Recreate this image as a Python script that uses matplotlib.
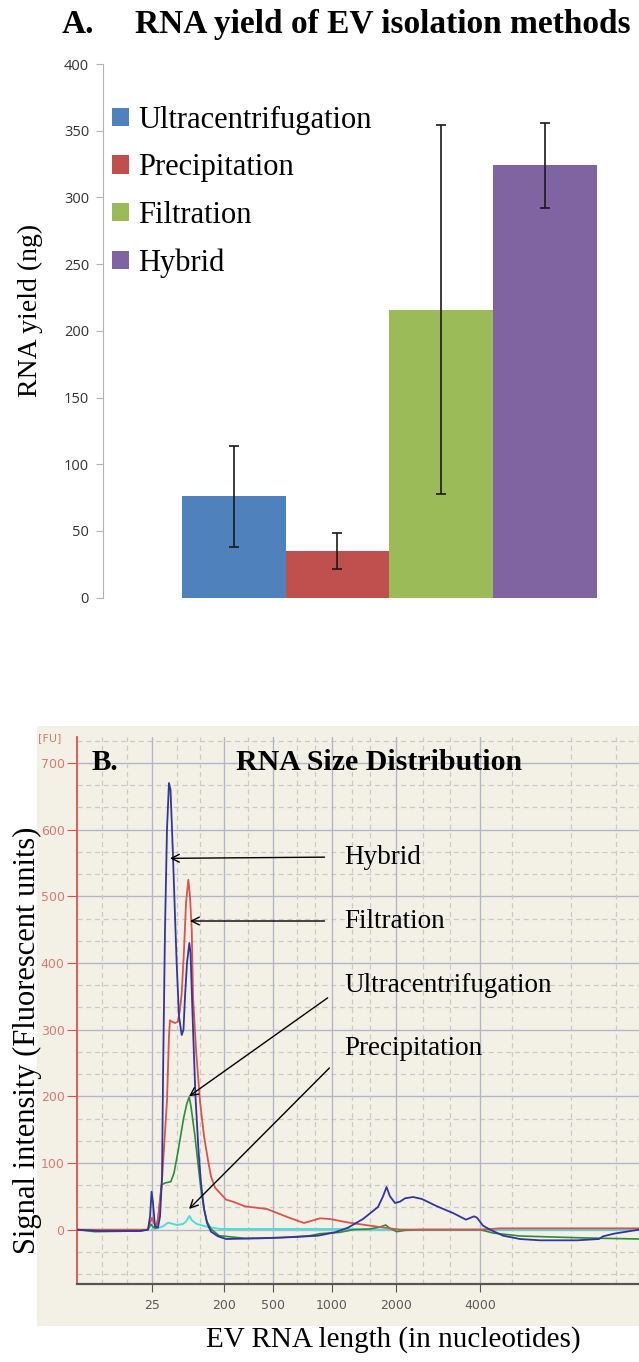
import matplotlib
matplotlib.use('Agg')
import matplotlib.pyplot as plt
from matplotlib.patches import Rectangle, Patch
import numpy as np

# ---- panel A: RNA yield per isolation method ----
methods = ['Ultracentrifugation', 'Precipitation', 'Filtration', 'Hybrid']
yield_ng = [76, 35, 216, 324]
yield_err = [38, 13.5, 138.5, 32]
bar_colors = ['#4f81bd', '#c0504d', '#9bbb59', '#8064a2']

# ---- panel B: electropherogram traces (migration time [s], FU) ----
ladder_nt = ['25', '200', '500', '1000', '2000', '4000']
ladder_time = [25.82, 32.36, 36.82, 42.18, 48.0, 55.64]

hybrid_t = [19.0, 21.09, 24.73, 25.45, 25.64, 25.78, 25.91, 26.09, 26.36, 26.55, 26.73,
            26.82, 27.0, 27.18, 27.36, 27.5, 27.64, 27.73, 27.91, 28.06, 28.27, 28.52,
            28.68, 28.82, 29.0, 29.21, 29.32, 29.55, 29.77, 30.05, 30.27, 30.55, 30.82,
            31.18, 31.82, 32.55, 35.64, 38.91, 40.91, 42.45, 43.64, 45.0, 46.36, 46.82,
            47.14, 47.45, 47.91, 48.36, 48.82, 49.55, 50.36, 51.73, 53.18, 54.36, 55.09,
            55.36, 55.91, 56.55, 57.73, 59.27, 61.09, 64.45, 66.45, 66.82, 67.82, 70.09]
hybrid_fu = [0, -2, -2, 0, 20, 57, 40, 5, 3, 20, 80,
             229, 450, 600, 670, 660, 600, 559, 470, 400, 320, 292,
             300, 350, 400, 430, 415, 300, 200, 117, 70, 31, 10,
             -3, -10, -14, -13, -11, -9, -4, 3, 16, 34, 50,
             64, 50, 40, 42, 47, 49, 46, 35, 25, 15, 20,
             18, 6, 0, -9, -14, -16, -16, -14, -10, -6, 0]

filtration_t = [19.0, 25.45, 25.64, 25.82, 26.0, 26.18, 26.36, 26.68, 26.95, 27.18, 27.36,
                27.45, 27.64, 27.91, 28.18, 28.36, 28.52, 28.73, 28.91, 29.12, 29.27,
                29.43, 29.55, 29.82, 30.18, 30.55, 30.88, 31.18, 31.55, 32.55, 33.18,
                34.27, 36.27, 38.27, 39.64, 41.09, 42.0, 43.55, 45.64, 47.18, 48.36,
                55.64, 57.45, 70.09]
filtration_fu = [0, 0, 10, 18, 10, 5, 16, 62, 133, 193, 290,
                 314, 312, 310, 312, 330, 355, 420, 490, 525, 500,
                 450, 349, 270, 193, 140, 107, 80, 63, 45, 42,
                 35, 31, 18, 10, 17, 16, 11, 6, 2.5, 0,
                 0, 2, 2]

ultra_t = [19.0, 20.64, 24.73, 25.45, 25.73, 25.91, 26.18, 26.36, 26.68, 27.0, 27.53,
           27.82, 28.18, 28.7, 29.0, 29.2, 29.36, 29.71, 30.05, 30.27, 30.55, 30.82,
           31.18, 31.91, 34.27, 37.45, 40.18, 41.09, 42.91, 44.09, 45.64, 46.55, 47.06,
           47.45, 48.06, 48.82, 50.18, 52.64, 55.64, 56.82, 59.27, 62.27, 65.36, 70.09]
ultra_fu = [0, -3, -2, 0, 8, 4, 2, 15, 67, 70, 72,
            85, 117, 168, 190, 199, 185, 142, 92, 60, 31, 12,
            1, -9, -13, -12, -9, -6, -4, 0, 1, 4, 7,
            2, -3, -1, 0, 0, 0, -5, -9.5, -11, -12.5, -14]

precip_t = [25.82, 26.27, 26.82, 27.27, 27.64, 28.09, 28.64, 28.91, 29.21, 29.45, 29.88,
            30.79, 32.0, 35.64, 42.91, 47.0, 70.09]
precip_fu = [0, 2, 5, 10.5, 9, 7, 8.6, 12, 20.5, 14, 8.6,
             4.5, 1, 1, 1, 0, 0]

W, H = 639, 1362
fig = plt.figure(figsize=(W / 100, H / 100), dpi=100)
serif = 'Liberation Serif'


def fx(px):
    return px / W


def fy(py):
    return 1 - py / H


# ---------------- A ----------------
axA = fig.add_axes([fx(103), fy(597.7), fx(536), 533.7 / H])
x = np.arange(len(methods))
axA.bar(x, yield_ng, width=1.0, color=bar_colors, yerr=yield_err, capsize=3.5,
        error_kw=dict(elinewidth=1.2, ecolor='#1a1a1a', capthick=1.2))
axA.set_xlim(-1.257, 3.902)
axA.set_ylim(0, 400)
axA.set_yticks(np.arange(0, 401, 50))
axA.set_xticks([])
for s in ['top', 'right', 'bottom']:
    axA.spines[s].set_visible(False)
axA.spines['left'].set_color('#b4b4b4')
axA.tick_params(axis='y', length=5, color='#b4b4b4', labelsize=10.5,
                labelcolor='#333333', pad=5)
for lab in axA.get_yticklabels():
    lab.set_family('Open Sans')

handles = [Patch(facecolor=c, edgecolor='none') for c in bar_colors]
axA.legend(handles, methods, loc='upper left', bbox_to_anchor=(fx(112), fy(106)),
           bbox_transform=fig.transFigure, frameon=False,
           prop={'family': serif, 'size': 22}, handlelength=0.55, handleheight=0.55,
           handletextpad=0.3, labelspacing=0.6, borderpad=0, borderaxespad=0)

fig.text(fx(62), fy(33), 'A.', family=serif, weight='bold', size=24, va='baseline')
fig.text(fx(135), fy(33), 'RNA yield of EV isolation methods', family=serif,
         weight='bold', size=24, va='baseline')
fig.text(fx(30), fy(310), 'RNA yield (ng)', family=serif, size=20, rotation=90,
         ha='center', va='center')

# ---------------- B ----------------
beige = '#f3f1e6'
fig.patches.append(Rectangle((fx(37), fy(1326)), fx(602), 600 / H,
                             transform=fig.transFigure, facecolor=beige,
                             edgecolor='none', zorder=-5))
axB = fig.add_axes([fx(77), fy(1284), fx(562), 547 / H])
axB.set_zorder(2)
axB.set_facecolor('none')
axB.set_xlim(19.0, 70.09)
axB.set_ylim(-81.5, 739)

# grid: solid lines at every 100 FU and at the ladder sizes, dashed in between
grid_solid = '#b3b5cb'
grid_dash = '#c9c9c9'
for v in range(0, 701, 100):
    axB.axhline(v, color=grid_solid, lw=1.0, zorder=1)
for v in np.arange(-200 / 3, 740, 100 / 3):
    if abs(v / 100 - round(v / 100)) > 0.05:
        axB.axhline(v, color=grid_dash, lw=0.9, ls=(0, (4, 3)), zorder=1)
for t in ladder_time:
    axB.axvline(t, color=grid_solid, lw=1.0, zorder=1)
minor_t = [21.27, 23.55, 28.09, 30.18, 34.55, 39.0, 40.6, 44.0, 45.6, 50.45, 52.9,
           58.5, 63.9, 68.0]
for t in minor_t:
    axB.axvline(t, color=grid_dash, lw=0.9, ls=(0, (4, 3)), zorder=1)

axB.plot(precip_t, precip_fu, color='#48e0dc', lw=1.4, zorder=3)
axB.plot(ultra_t, ultra_fu, color='#2e8b3a', lw=1.2, zorder=3)
axB.plot(filtration_t, filtration_fu, color='#d9534f', lw=1.3, zorder=3)
axB.plot(hybrid_t, hybrid_fu, color='#34349e', lw=1.3, zorder=4)

for s in ['top', 'right']:
    axB.spines[s].set_visible(False)
axB.spines['left'].set_color('#d9534f')
axB.spines['left'].set_linewidth(1.3)
axB.spines['bottom'].set_color('#555555')
axB.spines['bottom'].set_linewidth(1.6)
axB.set_yticks(range(0, 701, 100))
axB.tick_params(axis='y', length=7, color='#d9534f', labelcolor='#d97a76',
                labelsize=9, pad=2)
axB.set_xticks(ladder_time)
axB.set_xticklabels(ladder_nt)
axB.tick_params(axis='x', length=6, color='#555555', labelcolor='#5a5a5a',
                labelsize=9, pad=5)
fig.text(fx(50), fy(738), '[FU]', color='#d97a76', size=8, ha='center', va='center')

fig.text(fx(92), fy(763), 'B.', family=serif, weight='bold', size=21, va='center')
fig.text(fx(236), fy(763), 'RNA Size Distribution', family=serif, weight='bold',
         size=21.5, va='center')

arrow = dict(arrowstyle='->', color='black', lw=1.0, shrinkA=12, shrinkB=0,
             mutation_scale=14)
notes = [('Hybrid', (27.45, 557), 559, 0.5),
         ('Filtration', (29.27, 463), 463, 0.5),
         ('Ultracentrifugation', (29.18, 200), 367, 0.45),
         ('Precipitation', (29.18, 31), 272, 0.3)]
for label, tip, ytext, rel in notes:
    axB.annotate(label, xy=tip, xytext=(43.27, ytext), family=serif, size=19.5,
                 ha='left', va='center', zorder=5,
                 arrowprops=dict(arrow, relpos=(0, rel)))

fig.text(fx(393), fy(1340), 'EV RNA length (in nucleotides)', family=serif,
         size=21, ha='center', va='center')
fig.text(fx(27), fy(1040), 'Signal intensity (Fluorescent units)', family=serif,
         size=22, rotation=90, ha='center', va='center')

fig.savefig('out.png', dpi=100)
